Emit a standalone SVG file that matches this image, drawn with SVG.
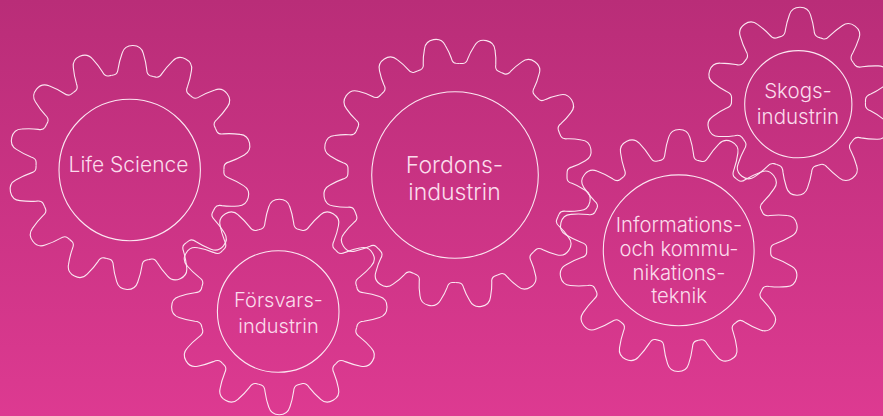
<svg xmlns="http://www.w3.org/2000/svg" width="883" height="416" viewBox="0 0 883 416">
<style>
path,circle{fill:none;stroke:#fbe6f1;stroke-width:1.1;stroke-linejoin:round}
text{font-family:"Inter","Liberation Sans",sans-serif;font-weight:300;fill:#fbdcec;text-anchor:middle}
</style>
<defs>
<linearGradient id="bg" x1="0" y1="0" x2="0" y2="1"><stop offset="0" stop-color="#b92d78"/><stop offset="1" stop-color="#dd3a91"/></linearGradient>
<path id="t14" d="M-20.9,-91.6L-18,-92.3C-15.5,-93 -14.5,-95 -14.3,-98.4C-13.5,-105 -12,-110 -10.5,-114.5C-9,-119.5 -5,-122 0,-122C5,-122 9,-119.5 10.5,-114.5C12,-110 13.5,-105 14.3,-98.4C14.5,-95 15.5,-93 18,-92.3L20.9,-91.6"/>
<path id="t16" d="M-21.4,-107.4L-18,-108.2C-15.5,-108.9 -14.5,-110.7 -14.3,-114C-13.5,-120 -12,-124 -10.5,-128C-9,-133 -5,-135.5 0,-135.5C5,-135.5 9,-133 10.5,-128C12,-124 13.5,-120 14.3,-114C14.5,-110.7 15.5,-108.9 18,-108.2L21.4,-107.4"/>
<path id="t12" d="M-20.7,-77.3L-18,-78C-15.5,-79 -14.5,-81 -14.3,-84.5C-13.5,-90 -12,-96 -10.5,-100.2C-9,-105.2 -5,-107.7 0,-107.7C5,-107.7 9,-105.2 10.5,-100.2C12,-96 13.5,-90 14.3,-84.5C14.5,-81 15.5,-79 18,-78L20.7,-77.3"/>
<path id="u14" d="M-20.5,-89.7L-18,-90.3C-15.5,-91 -14.5,-93 -14.3,-96.4C-13.5,-103 -12,-109 -10.5,-113.5C-9,-118.5 -5,-121 0,-121C5,-121 9,-118.5 10.5,-113.5C12,-109 13.5,-103 14.3,-96.4C14.5,-93 15.5,-91 18,-90.3L20.5,-89.7"/>
<path id="t10" d="M-20.7,-63.7L-18,-64.6C-15.5,-65.6 -14.5,-67.8 -14.3,-71.2C-13.5,-77 -12,-82 -10.5,-86.5C-9,-91.5 -5,-94 0,-94C5,-94 9,-91.5 10.5,-86.5C12,-82 13.5,-77 14.3,-71.2C14.5,-67.8 15.5,-65.6 18,-64.6L20.7,-63.7"/>
</defs>
<rect width="883" height="416" fill="url(#bg)"/>
<g id="life-science">
<g transform="translate(130,167.5)">
<use href="#t14" transform="rotate(1.4)"/><use href="#t14" transform="rotate(27.1)"/><use href="#t14" transform="rotate(52.8)"/><use href="#t14" transform="rotate(78.5)"/><use href="#t14" transform="rotate(104.3)"/><use href="#t14" transform="rotate(130)"/><use href="#t14" transform="rotate(155.7)"/><use href="#t14" transform="rotate(181.4)"/><use href="#t14" transform="rotate(207.1)"/><use href="#t14" transform="rotate(232.8)"/><use href="#t14" transform="rotate(258.5)"/><use href="#t14" transform="rotate(284.3)"/><use href="#t14" transform="rotate(310)"/><use href="#t14" transform="rotate(335.7)"/>
</g>
<circle cx="129.7" cy="170" r="70.7"/>
<text x="128.5" y="171.7" font-size="21">Life Science</text>
</g>
<g id="forsvarsindustrin">
<g transform="translate(279.3,307)">
<use href="#t12"/><use href="#t12" transform="rotate(30)"/><use href="#t12" transform="rotate(60)"/><use href="#t12" transform="rotate(90)"/><use href="#t12" transform="rotate(120)"/><use href="#t12" transform="rotate(150)"/><use href="#t12" transform="rotate(180)"/><use href="#t12" transform="rotate(210)"/><use href="#t12" transform="rotate(240)"/><use href="#t12" transform="rotate(270)"/><use href="#t12" transform="rotate(300)"/><use href="#t12" transform="rotate(330)"/>
</g>
<circle cx="278.2" cy="311.5" r="60.8"/>
<text x="278.5" y="306.7" font-size="20">Försvars-</text>
<text x="278.5" y="333.3" font-size="20">industrin</text>
</g>
<g id="fordonsindustrin">
<g transform="translate(457.5,173)">
<use href="#t16" transform="rotate(12.3)"/><use href="#t16" transform="rotate(34.8)"/><use href="#t16" transform="rotate(57.3)"/><use href="#t16" transform="rotate(79.8)"/><use href="#t16" transform="rotate(102.3)"/><use href="#t16" transform="rotate(124.8)"/><use href="#t16" transform="rotate(147.3)"/><use href="#t16" transform="rotate(169.8)"/><use href="#t16" transform="rotate(192.3)"/><use href="#t16" transform="rotate(214.8)"/><use href="#t16" transform="rotate(237.3)"/><use href="#t16" transform="rotate(259.8)"/><use href="#t16" transform="rotate(282.3)"/><use href="#t16" transform="rotate(304.8)"/><use href="#t16" transform="rotate(327.3)"/><use href="#t16" transform="rotate(349.8)"/>
</g>
<circle cx="455" cy="175" r="83.3"/>
<text x="454.5" y="173.3" font-size="23">Fordons-</text>
<text x="454.5" y="200" font-size="23">industrin</text>
</g>
<g id="informations-och-kommunikationsteknik">
<g transform="translate(678.7,250.5)">
<use href="#u14" transform="rotate(0.3)"/><use href="#u14" transform="rotate(26)"/><use href="#u14" transform="rotate(51.7)"/><use href="#u14" transform="rotate(77.4)"/><use href="#u14" transform="rotate(103.2)"/><use href="#u14" transform="rotate(128.9)"/><use href="#u14" transform="rotate(154.6)"/><use href="#u14" transform="rotate(180.3)"/><use href="#u14" transform="rotate(206)"/><use href="#u14" transform="rotate(231.7)"/><use href="#u14" transform="rotate(257.4)"/><use href="#u14" transform="rotate(283.2)"/><use href="#u14" transform="rotate(308.9)"/><use href="#u14" transform="rotate(334.6)"/>
</g>
<circle cx="678.7" cy="250.3" r="75.4"/>
<text x="679" y="231.7" font-size="20.3">Informations-</text>
<text x="679" y="256" font-size="20.3">och kommu-</text>
<text x="679" y="280" font-size="20.3">nikations-</text>
<text x="679" y="303.3" font-size="20.3">teknik</text>
</g>
<g id="skogsindustrin">
<g transform="translate(798.5,101.2)">
<use href="#t10" transform="rotate(1)"/><use href="#t10" transform="rotate(37)"/><use href="#t10" transform="rotate(73)"/><use href="#t10" transform="rotate(109)"/><use href="#t10" transform="rotate(145)"/><use href="#t10" transform="rotate(181)"/><use href="#t10" transform="rotate(217)"/><use href="#t10" transform="rotate(253)"/><use href="#t10" transform="rotate(289)"/><use href="#t10" transform="rotate(325)"/>
</g>
<circle cx="798.3" cy="104.2" r="53.6"/>
<text x="798" y="98.3" font-size="20.5">Skogs-</text>
<text x="798" y="124.3" font-size="20.5">industrin</text>
</g>
</svg>
